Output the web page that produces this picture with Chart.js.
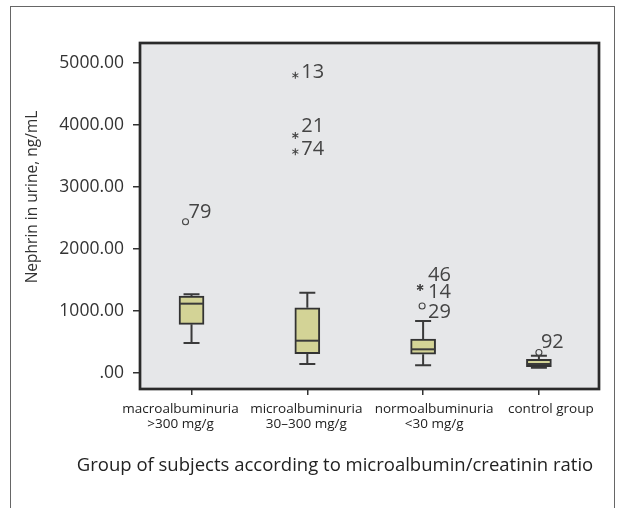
<!DOCTYPE html>
<html>
<head>
<meta charset="utf-8">
<script src="https://cdn.jsdelivr.net/npm/chart.js@4.4.1/dist/chart.umd.min.js"></script>
<style>
  html, body { margin: 0; padding: 0; background: #fff; }
  #wrap { position: relative; width: 620px; height: 508px; overflow: hidden; }
  #frame { position: absolute; left: 10px; top: 6px; width: 605px; height: 540px; box-sizing: border-box; border: 1px solid #666; }
  #chart { position: absolute; left: 0; top: 0; }
</style>
</head>
<body>
<div id="wrap">
  <div id="frame"></div>
  <canvas id="chart" width="620" height="508"></canvas>
</div>
<script>
// groups (x axis), each one a box
const groups = [['macroalbuminuria', '>300 mg/g'], ['microalbuminuria', '30–300 mg/g'], ['normoalbuminuria', '<30 mg/g'], ['control group']];
const whiskerLow = [484, 145, 124, 85];
const boxLow = [785, 311, 302, 102];
const medians = [1118, 521, 382, 145];
const boxHigh = [1242, 1053, 548, 221];
const whiskerHigh = [1269, 1295, 839, 279];

// outliers: group index, value, case id, kind (o = outlier, * = extreme)
const outlierGroup = [0, 1, 1, 1, 2, 2, 2, 3];
const outlierValue = [2440, 4800, 3830, 3570, 1380, 1380, 1080, 330];
const outlierId = ['79', '13', '21', '74', '46', '14', '29', '92'];
const outlierKind = ['o', '*', '*', '*', '*', '*', 'o', 'o'];

const yTicks = [0, 1000, 2000, 3000, 4000, 5000];
const xTitle = 'Group of subjects according to microalbumin/creatinin ratio';
const yTitle = 'Nephrin in urine, ng/mL';

// px nudges (style only)
const markerShift = [-6, -12, -12, -12, -3, -3, -1, 0];
const labelShift = [[3, -4], [6, 3], [6, -4], [6, 3], [8, -6], [8, 11], [6, 12], [2, -5]];
const groupLabelShift = [-11, -1, 11, 12];

const font = 'Open Sans';
const ink = '#333';

const drawStar = (ctx, cx, cy, r) => {
  ctx.beginPath();
  for (let k = 0; k < 3; k++) {
    const a = Math.PI / 2 + k * Math.PI / 3;
    ctx.moveTo(cx - r * Math.cos(a), cy - r * Math.sin(a));
    ctx.lineTo(cx + r * Math.cos(a), cy + r * Math.sin(a));
  }
  ctx.stroke();
};

const boxExtras = {
  id: 'boxExtras',
  beforeDraw(chart) {
    const { ctx, chartArea: a } = chart;
    ctx.save();
    ctx.fillStyle = '#e6e7e9';
    ctx.fillRect(a.left, a.top, a.right - a.left, a.bottom - a.top);
    ctx.restore();
  },
  afterDatasetsDraw(chart) {
    const { ctx, scales: { x, y } } = chart;
    ctx.save();
    ctx.strokeStyle = '#3a3a3a';
    ctx.lineWidth = 2;
    groups.forEach((g, i) => {
      const cx = x.getPixelForValue(i);
      [[whiskerLow[i], boxLow[i]], [whiskerHigh[i], boxHigh[i]]].forEach(([end, edge]) => {
        const ye = y.getPixelForValue(end);
        ctx.beginPath();
        ctx.moveTo(cx, y.getPixelForValue(edge));
        ctx.lineTo(cx, ye);
        ctx.moveTo(cx - 8, ye);
        ctx.lineTo(cx + 8, ye);
        ctx.stroke();
      });
      const ym = y.getPixelForValue(medians[i]);
      ctx.beginPath();
      ctx.moveTo(cx - 12, ym);
      ctx.lineTo(cx + 12, ym);
      ctx.stroke();
    });

    ctx.lineWidth = 1.1;
    ctx.strokeStyle = '#444';
    ctx.fillStyle = '#444';
    ctx.font = `20px "${font}"`;
    ctx.textBaseline = 'alphabetic';
    outlierValue.forEach((v, k) => {
      const mx = x.getPixelForValue(outlierGroup[k]) + markerShift[k];
      const my = y.getPixelForValue(v);
      if (outlierKind[k] === 'o') {
        ctx.beginPath();
        ctx.arc(mx, my, 3, 0, Math.PI * 2);
        ctx.stroke();
      } else {
        drawStar(ctx, mx, my, 3.5);
      }
      ctx.fillText(outlierId[k], mx + labelShift[k][0], my + labelShift[k][1]);
    });
    ctx.restore();
  },
  afterDraw(chart) {
    const { ctx, chartArea: a, scales: { x } } = chart;
    ctx.save();
    ctx.strokeStyle = '#2a2a2a';
    ctx.lineWidth = 2.7;
    ctx.strokeRect(a.left, a.top, a.right - a.left, a.bottom - a.top);

    // group names under the ticks
    ctx.fillStyle = '#222';
    ctx.textAlign = 'center';
    ctx.textBaseline = 'middle';
    ctx.font = `13.5px "${font}"`;
    groups.forEach((lines, i) => {
      const cx = x.getPixelForValue(i) + groupLabelShift[i];
      lines.forEach((t, j) => ctx.fillText(t, cx, 409 + j * 15));
    });

    // axis titles
    ctx.font = `18.5px "${font}"`;
    ctx.fillText(xTitle, 335, 466);
    ctx.translate(33, 197);
    ctx.rotate(-Math.PI / 2);
    ctx.fillStyle = ink;
    ctx.font = `15.5px "${font}"`;
    ctx.fillText(yTitle, 0, 0);
    ctx.restore();
  },
};

new Chart(document.getElementById('chart'), {
  type: 'bar',
  data: {
    datasets: [{
      data: groups.map((g, i) => ({ x: i, y: [boxLow[i], boxHigh[i]] })),
      backgroundColor: '#d3d396',
      borderColor: '#333',
      borderWidth: 2,
      borderSkipped: false,
      barThickness: 25,
    }],
  },
  options: {
    responsive: false,
    animation: false,
    layout: { padding: { left: 0, top: 43, right: 21, bottom: 0 } },
    plugins: { legend: { display: false }, tooltip: { enabled: false } },
    scales: {
      x: {
        type: 'linear',
        offset: false,
        min: -0.445,
        max: 3.519,
        afterBuildTicks: (scale) => { scale.ticks = groups.map((g, i) => ({ value: i })); },
        afterFit: (scale) => { scale.height = 119; },
        grid: { offset: false, drawOnChartArea: false, drawTicks: true, tickLength: 6, color: ink, lineWidth: 1.5 },
        border: { display: false },
        ticks: { display: false },
      },
      y: {
        min: -258,
        max: 5322,
        afterBuildTicks: (scale) => { scale.ticks = yTicks.map((v) => ({ value: v })); },
        afterFit: (scale) => { scale.width = 140; },
        grid: { drawOnChartArea: false, drawTicks: true, tickLength: 7, color: ink, lineWidth: 1.5 },
        border: { display: false },
        ticks: {
          padding: 9,
          color: ink,
          font: { family: font, size: 17.5 },
          callback: (v) => (v === 0 ? '.00' : v.toFixed(2)),
        },
      },
    },
  },
  plugins: [boxExtras],
});
</script>
</body>
</html>
